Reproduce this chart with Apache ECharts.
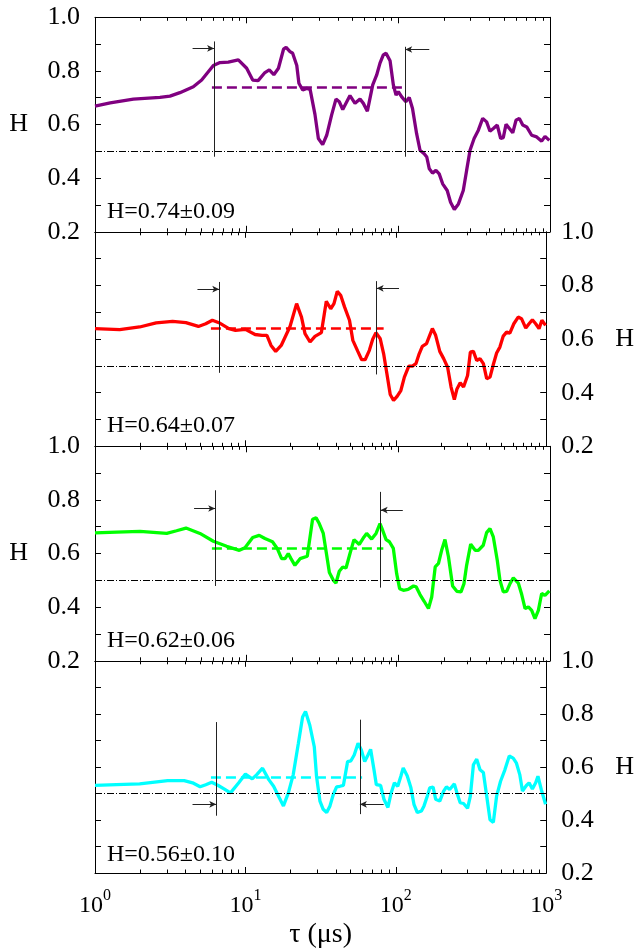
<!DOCTYPE html>
<html>
<head>
<meta charset="UTF-8">
<title>H vs tau</title>
<script src="https://cdn.jsdelivr.net/npm/echarts@6/dist/echarts.min.js"></script>
<style>
  html, body { margin: 0; padding: 0; background: #ffffff; }
  #chart { width: 637px; height: 950px; }
</style>
</head>
<body>
<div id="chart"></div>
<script>
// axis ticks
var xMajorTicks = [1, 10, 100, 1000];
var xMinorTicks = [2, 3, 4, 5, 6, 7, 8, 9, 20, 30, 40, 50, 60, 70, 80, 90,
                   200, 300, 400, 500, 600, 700, 800, 900];
var xTickExp = ['0', '1', '2', '3'];
var yTickLabels = ['0.2', '0.4', '0.6', '0.8', '1.0'];

// curves [tau (us), H]
var purpleData = [[1,0.669],[1.26,0.681],[1.79,0.695],[2.68,0.701],[3.12,0.706],[3.63,0.719],[4.45,0.741],[5.05,0.766],
  [6.03,0.82],[6.67,0.831],[7.57,0.833],[8.81,0.841],[10,0.81],[10.96,0.766],[11.9,0.764],[13.2,0.794],[14.1,0.804],
  [15.1,0.786],[16.2,0.81],[17.5,0.881],[18.2,0.888],[19.3,0.872],[20.1,0.866],[21.4,0.82],[22.1,0.754],[23.4,0.729],
  [24.9,0.735],[26.2,0.731],[28.2,0.638],[29.7,0.548],[31.7,0.525],[33.7,0.56],[36.3,0.635],[38.8,0.695],[40.8,0.685],
  [43,0.656],[48,0.708],[51.8,0.679],[55.9,0.695],[58.8,0.679],[62.5,0.65],[67.8,0.748],[72,0.785],[75.7,0.829],
  [79.6,0.86],[83,0.866],[88.2,0.838],[92.7,0.748],[96.6,0.71],[100,0.723],[105,0.704],[112,0.685],[118,0.701],
  [124,0.66],[132,0.566],[139,0.504],[148,0.491],[154,0.479],[160,0.435],[168,0.419],[177,0.429],[186,0.416],
  [196,0.379],[210,0.354],[221,0.31],[234,0.283],[249,0.304],[268,0.354],[282,0.429],[297,0.504],[316,0.548],
  [337,0.579],[360,0.623],[382,0.61],[402,0.575],[423,0.585],[449,0.598],[473,0.548],[492,0.551],[513,0.601],
  [540,0.585],[568,0.569],[597,0.616],[628,0.623],[661,0.598],[702,0.591],[757,0.56],[817,0.554],[881,0.538],
  [927,0.556],[990,0.541]];

var redData = [[1,0.639],[1.46,0.635],[1.98,0.645],[2.55,0.66],[3.28,0.666],[4.02,0.661],[4.87,0.647],[5.45,0.657],
  [6.03,0.67],[6.67,0.661],[7.76,0.639],[8.59,0.632],[10,0.636],[11.6,0.617],[12.9,0.614],[13.9,0.614],[14.8,0.576],
  [15.9,0.554],[17.3,0.576],[19.8,0.647],[21.9,0.732],[23.6,0.682],[24.9,0.62],[26.9,0.589],[29,0.61],[32,0.624],
  [34.5,0.741],[36.9,0.713],[38.8,0.732],[40.8,0.778],[43,0.763],[45.6,0.72],[49.2,0.67],[51.8,0.595],[55.9,0.554],
  [59.3,0.523],[62.5,0.523],[66.7,0.558],[70.2,0.599],[73.8,0.624],[78.8,0.601],[83,0.545],[87.3,0.47],[91.8,0.393],
  [96.6,0.371],[102,0.386],[108,0.408],[114,0.458],[122,0.499],[129,0.499],[136,0.508],[143,0.545],[150,0.573],
  [160,0.583],[168,0.614],[175,0.639],[184,0.614],[196,0.554],[208,0.527],[221,0.495],[233,0.421],[245,0.374],
  [255,0.414],[268,0.437],[282,0.421],[300,0.464],[313,0.551],[328,0.554],[345,0.52],[363,0.527],[382,0.508],
  [402,0.452],[423,0.458],[445,0.505],[468,0.548],[492,0.57],[518,0.611],[545,0.626],[573,0.622],[609,0.657],
  [651,0.682],[685,0.676],[731,0.641],[769,0.657],[809,0.672],[851,0.657],[896,0.639],[936,0.67],[990,0.651]];

var greenData = [[1,0.677],[1.39,0.68],[1.98,0.683],[2.97,0.675],[3.45,0.685],[3.98,0.695],[4.92,0.675],[6.03,0.646],
  [7.38,0.627],[8.95,0.612],[9.75,0.622],[10.96,0.66],[12.1,0.668],[13.2,0.656],[14.8,0.644],[15.9,0.619],[17,0.581],
  [17.9,0.581],[18.8,0.6],[19.6,0.581],[20.8,0.556],[22.5,0.581],[25.1,0.59],[27.2,0.728],[28.7,0.733],[30.1,0.712],
  [32,0.675],[33.7,0.594],[35.1,0.529],[37.3,0.5],[38.8,0.49],[40.8,0.534],[43,0.55],[45.2,0.546],[48,0.6],[51,0.652],
  [55.3,0.634],[59.4,0.662],[61.8,0.675],[66.7,0.654],[71.3,0.675],[75.7,0.712],[78.8,0.687],[83,0.652],[87.3,0.644],
  [92.7,0.619],[97.5,0.525],[102,0.469],[108,0.463],[116,0.466],[126,0.479],[131,0.476],[139,0.447],[148,0.422],
  [158,0.395],[166,0.438],[175,0.55],[184,0.563],[193,0.612],[203,0.652],[214,0.588],[228,0.479],[243,0.459],
  [259,0.457],[271,0.488],[282,0.556],[300,0.635],[321,0.612],[337,0.612],[363,0.631],[382,0.678],[402,0.693],
  [423,0.662],[449,0.575],[468,0.5],[492,0.457],[518,0.459],[545,0.488],[573,0.509],[618,0.49],[651,0.447],
  [685,0.395],[720,0.401],[757,0.388],[796,0.357],[838,0.388],[881,0.451],[927,0.444],[990,0.461]];

var cyanData = [[1,0.53],[1.39,0.533],[1.98,0.536],[3.04,0.548],[3.92,0.548],[4.45,0.54],[5,0.525],[5.45,0.533],
  [5.97,0.542],[6.6,0.53],[7.3,0.515],[7.96,0.502],[9.03,0.54],[10,0.573],[11.1,0.555],[11.9,0.571],[13,0.595],
  [14.3,0.552],[15.4,0.527],[16.8,0.484],[17.9,0.453],[19.3,0.502],[20.8,0.571],[22.5,0.689],[24,0.788],[25.1,0.809],
  [26.8,0.757],[28.7,0.676],[29.7,0.565],[31.3,0.471],[32.9,0.44],[34.7,0.428],[36.5,0.453],[38.4,0.496],[40.4,0.525],
  [42.5,0.527],[44.8,0.53],[47.8,0.62],[50.3,0.623],[52.9,0.645],[56.1,0.689],[59,0.664],[62.1,0.62],[65.3,0.645],
  [68,0.666],[71.6,0.589],[74.2,0.533],[79.2,0.53],[83.4,0.478],[88.6,0.447],[93.1,0.502],[97.9,0.54],[103,0.527],
  [108,0.565],[112,0.596],[119,0.567],[126,0.521],[132,0.459],[139,0.428],[148,0.434],[154,0.453],[162,0.49],
  [168,0.521],[177,0.524],[184,0.478],[196,0.471],[208,0.509],[217,0.525],[228,0.515],[245,0.536],[255,0.502],
  [268,0.465],[282,0.462],[300,0.444],[313,0.49],[328,0.608],[345,0.629],[363,0.589],[382,0.579],[402,0.49],
  [423,0.401],[445,0.391],[468,0.49],[497,0.546],[531,0.589],[568,0.641],[603,0.633],[634,0.614],[667,0.571],
  [695,0.509],[738,0.53],[769,0.54],[809,0.517],[851,0.54],[881,0.565],[927,0.515],[990,0.459]];

// fit ranges and mean values
var meanH = [0.74, 0.64, 0.62, 0.56];
var statText = ['H=0.74\u00b10.09', 'H=0.64\u00b10.07', 'H=0.62\u00b10.06', 'H=0.56\u00b10.10'];
var meanFrom = [5.9, 5.9, 5.9, 5.9];
var meanTo = [112, 83, 79.6, 59.7];
var leftMarkX = [6.1, 6.7, 6.2, 6.4];
var rightMarkX = [111, 74.6, 76.5, 57.7];
var leftMarkY = [[0.48, 0.91], [0.474, 0.813], [0.479, 0.836], [0.416, 0.769]];
var rightMarkY = [[0.48, 0.89], [0.468, 0.816], [0.473, 0.83], [0.422, 0.778]];
var arrowY = [[0.884, 0.88], [0.786, 0.789], [0.768, 0.762], [0.459, 0.459]];
var arrowStart = [[4.4, 160], [4.8, 105], [4.5, 107], [4.45, 83]];

var curves = [purpleData, redData, greenData, cyanData];
var colors = ['#800080', '#ff0000', '#00ff00', '#00ffff'];
var labelSide = ['left', 'right', 'left', 'right'];

var font = 'Liberation Serif';
var gridTop = [17.3, 231.8, 446.3, 660.8];
var gridH = 214.5;

var chart = echarts.init(document.getElementById('chart'), null, {renderer: 'canvas'});

var grids = [], xAxes = [], yAxes = [], series = [], texts = [];

for (var i = 0; i < 4; i++) {
    grids.push({left: 95, right: 87, top: gridTop[i], height: gridH});

    var isLast = (i === 3);
    // bottom major (data axis)
    xAxes.push({
        type: 'log', gridIndex: i, min: 1, max: 1000, position: 'bottom',
        axisLine: {lineStyle: {color: '#000', width: 1}},
        axisTick: {inside: true, length: 6, lineStyle: {color: '#000'}, customValues: xMajorTicks},
        splitLine: {show: false},
        axisLabel: {
            show: isLast, margin: 15, customValues: xMajorTicks,
            formatter: function (v) {
                return '{b|10}{s|' + xTickExp[xMajorTicks.indexOf(Math.round(v))] + '}';
            },
            rich: {
                b: {fontFamily: font, fontSize: 24, color: '#000', lineHeight: 30, verticalAlign: 'bottom'},
                s: {fontFamily: font, fontSize: 16, color: '#000', verticalAlign: 'top'}
            }
        },
        name: isLast ? '\u03c4 (\u03bcs)' : '',
        nameLocation: 'middle', nameGap: 48,
        nameTextStyle: {fontFamily: font, fontSize: 28, color: '#000'}
    });
    // bottom minor
    xAxes.push({
        type: 'log', gridIndex: i, min: 1, max: 1000, position: 'bottom',
        axisLine: {show: false},
        axisTick: {inside: true, length: 3.5, lineStyle: {color: '#000'}, customValues: xMinorTicks},
        axisLabel: {show: false}, splitLine: {show: false}
    });
    // top major
    xAxes.push({
        type: 'log', gridIndex: i, min: 1, max: 1000, position: 'top',
        axisLine: {lineStyle: {color: '#000', width: 1}},
        axisTick: {inside: true, length: 6, lineStyle: {color: '#000'}, customValues: xMajorTicks},
        axisLabel: {show: false}, splitLine: {show: false}
    });
    // top minor
    xAxes.push({
        type: 'log', gridIndex: i, min: 1, max: 1000, position: 'top',
        axisLine: {show: false},
        axisTick: {inside: true, length: 3.5, lineStyle: {color: '#000'}, customValues: xMinorTicks},
        axisLabel: {show: false}, splitLine: {show: false}
    });

    var sides = ['left', 'right'];
    for (var s = 0; s < 2; s++) {
        var withLabel = sides[s] === labelSide[i];
        yAxes.push({
            type: 'value', gridIndex: i, min: 0.2, max: 1.0, interval: 0.1, position: sides[s],
            axisLine: {show: true, lineStyle: {color: '#000', width: 1}},
            axisTick: {show: true, inside: true, length: 6, lineStyle: {color: '#000'}},
            splitLine: {show: false},
            axisLabel: {
                show: withLabel, margin: 15, fontFamily: font, fontSize: 26, color: '#000',
                formatter: function (v) {
                    var t = v.toFixed(1);
                    return yTickLabels.indexOf(t) >= 0 ? t : '';
                }
            },
            name: withLabel ? 'H' : '',
            nameLocation: 'middle', nameRotate: 0, nameGap: withLabel && sides[s] === 'left' ? 67 : 69,
            nameTextStyle: {fontFamily: font, fontSize: 26, color: '#000'}
        });
    }

    var thin = {color: '#222', width: 1, type: 'solid'};
    series.push({
        type: 'line', xAxisIndex: 4 * i, yAxisIndex: 2 * i,
        data: curves[i], showSymbol: false, symbol: 'none', smooth: false,
        lineStyle: {color: colors[i], width: 3.3},
        silent: true,
        markLine: {
            silent: true, animation: false, symbol: ['none', 'none'],
            label: {show: false},
            data: [
                {yAxis: 0.5, lineStyle: {color: '#000', width: 1, type: [7, 2, 1, 2]}},
                [{coord: [meanFrom[i], meanH[i]], lineStyle: {color: colors[i], width: 2.5, type: [10, 5]}},
                 {coord: [meanTo[i], meanH[i]]}],
                [{coord: [leftMarkX[i], leftMarkY[i][0]], lineStyle: thin},
                 {coord: [leftMarkX[i], leftMarkY[i][1]]}],
                [{coord: [rightMarkX[i], rightMarkY[i][0]], lineStyle: thin},
                 {coord: [rightMarkX[i], rightMarkY[i][1]]}],
                [{coord: [arrowStart[i][0], arrowY[i][0]], lineStyle: thin},
                 {coord: [leftMarkX[i], arrowY[i][0]], symbol: 'arrow', symbolSize: [5, 7]}],
                [{coord: [arrowStart[i][1], arrowY[i][1]], lineStyle: thin},
                 {coord: [rightMarkX[i], arrowY[i][1]], symbol: 'arrow', symbolSize: [5, 7]}]
            ]
        }
    });

    texts.push({
        type: 'text', left: 107, top: gridTop[i] + 194 - 12,
        style: {text: statText[i], fontFamily: font, fontSize: 24, fill: '#000'}
    });
}

chart.setOption({
    backgroundColor: '#ffffff',
    animation: false,
    grid: grids,
    xAxis: xAxes,
    yAxis: yAxes,
    series: series,
    graphic: texts
});
</script>
</body>
</html>
